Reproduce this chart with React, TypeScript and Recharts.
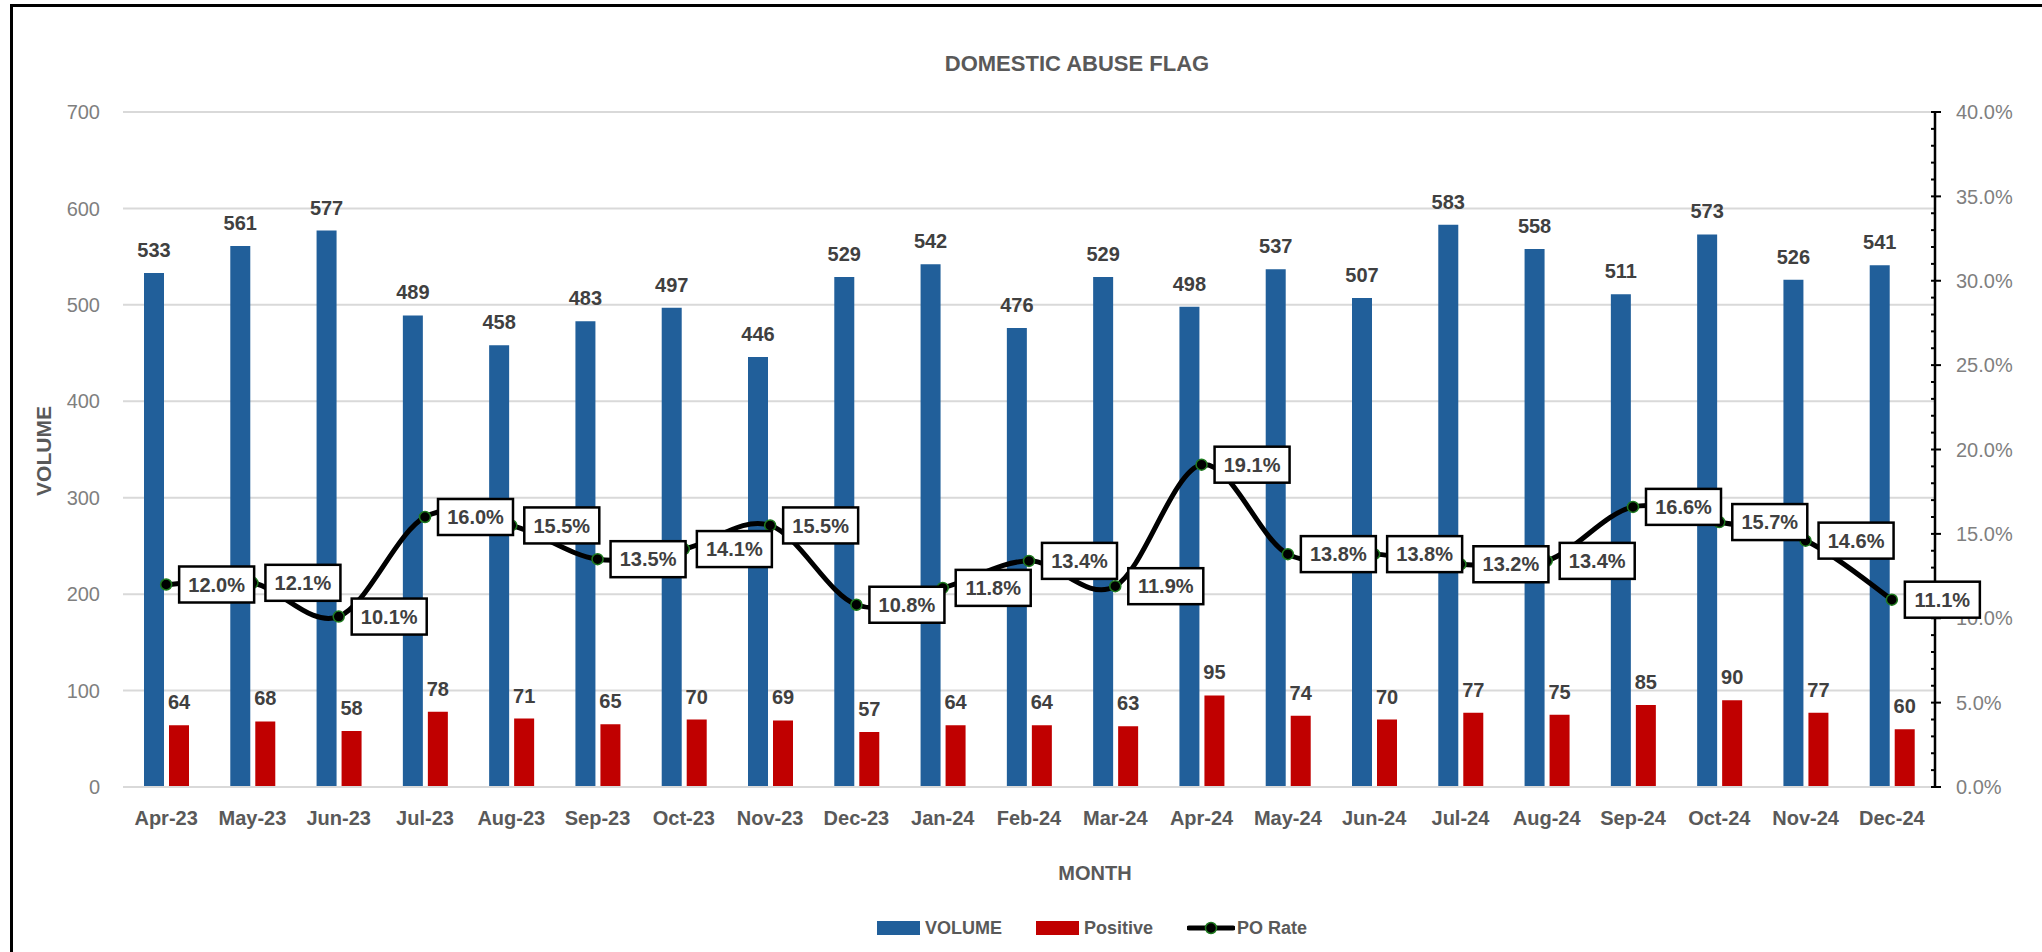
import React from "react";
import {
  ComposedChart,
  Bar,
  Line,
  XAxis,
  YAxis,
  CartesianGrid,
  LabelList,
  Legend,
  Label,
} from "recharts";

const months = [
  "Apr-23", "May-23", "Jun-23", "Jul-23", "Aug-23", "Sep-23", "Oct-23",
  "Nov-23", "Dec-23", "Jan-24", "Feb-24", "Mar-24", "Apr-24", "May-24",
  "Jun-24", "Jul-24", "Aug-24", "Sep-24", "Oct-24", "Nov-24", "Dec-24",
];
const volume = [533, 561, 577, 489, 458, 483, 497, 446, 529, 542, 476, 529, 498, 537, 507, 583, 558, 511, 573, 526, 541];
const positive = [64, 68, 58, 78, 71, 65, 70, 69, 57, 64, 64, 63, 95, 74, 70, 77, 75, 85, 90, 77, 60];
const poRate = [0.12, 0.121, 0.101, 0.16, 0.155, 0.135, 0.141, 0.155, 0.108, 0.118, 0.134, 0.119, 0.191, 0.138, 0.138, 0.132, 0.134, 0.166, 0.157, 0.146, 0.111];

const volumeTicks = [0, 100, 200, 300, 400, 500, 600, 700];
// 1% steps on the right axis, labels only every 5%
const rateTicks = Array.from({ length: 41 }, (_, i) => i / 100);
const legendOrder = ["volume", "positive", "rate"];

const data = months.map((month, i) => ({
  month,
  volume: volume[i],
  positive: positive[i],
  rate: poRate[i],
}));

const FONT = "'Liberation Sans', Arial, sans-serif";
const BLUE = "#215F9A";
const RED = "#C00000";
const GRID = "#d9d9d9";

// Excel-like smoothed line (Catmull-Rom through the points)
const excelSmooth: any = (context: any) => {
  let pts: number[][] = [];
  return {
    areaStart() {},
    areaEnd() {},
    lineStart() {
      pts = [];
    },
    point(x: number, y: number) {
      pts.push([+x, +y]);
    },
    lineEnd() {
      if (!pts.length) return;
      context.moveTo(pts[0][0], pts[0][1]);
      for (let i = 0; i < pts.length - 1; i++) {
        const p0 = pts[Math.max(i - 1, 0)];
        const p1 = pts[i];
        const p2 = pts[i + 1];
        const p3 = pts[Math.min(i + 2, pts.length - 1)];
        context.bezierCurveTo(
          p1[0] + (p2[0] - p0[0]) / 6,
          p1[1] + (p2[1] - p0[1]) / 6,
          p2[0] - (p3[0] - p1[0]) / 6,
          p2[1] - (p3[1] - p1[1]) / 6,
          p2[0],
          p2[1]
        );
      }
    },
  };
};

const RateTick = (props: any) => {
  const { x, y, payload } = props;
  const v = payload.value;
  const major = Math.round(v * 100) % 5 === 0;
  return (
    <g>
      <line x1={x - 4} x2={major ? x + 6 : x} y1={y} y2={y} stroke="#000" strokeWidth={2} />
      {major && (
        <text x={x + 21} y={y} dy="0.36em" fill="#7f7f7f" fontSize={20} fontFamily={FONT}>
          {(v * 100).toFixed(1) + "%"}
        </text>
      )}
    </g>
  );
};

const RateLabel = (props: any) => {
  const vb = props.viewBox || {};
  const x = props.x ?? vb.x;
  const y = props.y ?? vb.y;
  const value = props.value;
  if (x == null || y == null) return null;
  return (
    <g>
      <rect x={x + 13} y={y - 18} width={75} height={36} fill="#fff" stroke="#000" strokeWidth={2.5} />
      <text
        x={x + 50.5}
        y={y}
        dy="0.36em"
        textAnchor="middle"
        fill="#404040"
        fontSize={20}
        fontWeight="bold"
        fontFamily={FONT}
      >
        {(value * 100).toFixed(1) + "%"}
      </text>
    </g>
  );
};

const legendPos = [
  { swatch: 877, text: 925 },
  { swatch: 1036, text: 1084 },
  { swatch: 1187, text: 1237 },
];

const LegendContent = (props: any) => {
  const payload = [...(props.payload || [])].sort(
    (a: any, b: any) => legendOrder.indexOf(a.dataKey) - legendOrder.indexOf(b.dataKey)
  );
  return (
    <div style={{ position: "relative", width: 2042, height: 30 }}>
      {payload.map((p: any, i: number) => {
        const pos = legendPos[i] || legendPos[0];
        const isLine = p.dataKey === "rate";
        return (
          <React.Fragment key={i}>
            {isLine ? (
              <svg style={{ position: "absolute", left: pos.swatch, top: 5 }} width={48} height={20}>
                <line x1={2} x2={46} y1={10} y2={10} stroke="#000" strokeWidth={5} strokeLinecap="round" />
                <circle cx={24} cy={10} r={5.5} fill="#000" stroke="#1f7a1f" strokeWidth={1.5} />
              </svg>
            ) : (
              <div
                style={{
                  position: "absolute",
                  left: pos.swatch,
                  top: 8,
                  width: 43,
                  height: 14,
                  background: p.color,
                }}
              />
            )}
            <span
              style={{
                position: "absolute",
                left: pos.text,
                top: 15,
                transform: "translateY(-50%)",
                fontFamily: FONT,
                fontWeight: "bold",
                fontSize: 18,
                color: "#595959",
                whiteSpace: "nowrap",
              }}
            >
              {p.value}
            </span>
          </React.Fragment>
        );
      })}
    </div>
  );
};

export default function App() {
  return (
    <div
      style={{
        position: "absolute",
        left: 0,
        top: 0,
        width: 2042,
        height: 952,
        overflow: "hidden",
        background: "#fff",
      }}
    >
      <div
        style={{
          position: "absolute",
          left: 10,
          top: 4,
          width: 2200,
          height: 1100,
          border: "3px solid #000",
        }}
      />
      <div
        style={{
          position: "absolute",
          left: 1077,
          top: 64,
          transform: "translate(-50%, -50%)",
          fontFamily: FONT,
          fontWeight: "bold",
          fontSize: 22,
          color: "#595959",
          whiteSpace: "nowrap",
        }}
      >
        DOMESTIC ABUSE FLAG
      </div>
      <div style={{ position: "absolute", left: 0, top: 0 }}>
        <ComposedChart
          width={2042}
          height={952}
          data={data}
          margin={{ top: 112, right: 27, bottom: 125, left: 63 }}
          barSize={20}
          barGap={5}
          style={{ fontFamily: FONT }}
        >
          <CartesianGrid yAxisId="left" vertical={false} stroke={GRID} strokeWidth={2} />
          <XAxis
            dataKey="month"
            interval={0}
            height={40}
            tickSize={0}
            tickMargin={24}
            tickLine={false}
            axisLine={{ stroke: GRID, strokeWidth: 2 }}
            tick={{ fill: "#595959", fontSize: 20, fontWeight: "bold", fontFamily: FONT }}
          >
            <Label
              content={() => (
                <text
                  x={1095}
                  y={873}
                  dy="0.36em"
                  textAnchor="middle"
                  fill="#595959"
                  fontSize={20}
                  fontWeight="bold"
                  fontFamily={FONT}
                >
                  MONTH
                </text>
              )}
            />
          </XAxis>
          <YAxis
            yAxisId="left"
            domain={[0, 700]}
            ticks={volumeTicks}
            width={60}
            tickSize={0}
            tickMargin={23}
            tickLine={false}
            axisLine={false}
            tick={{ fill: "#7f7f7f", fontSize: 20, fontFamily: FONT }}
          >
            <Label
              content={() => (
                <text
                  x={43}
                  y={451}
                  dy="0.36em"
                  transform="rotate(-90 43 451)"
                  textAnchor="middle"
                  fill="#595959"
                  fontSize={21}
                  fontWeight="bold"
                  fontFamily={FONT}
                >
                  VOLUME
                </text>
              )}
            />
          </YAxis>
          <YAxis
            yAxisId="right"
            orientation="right"
            domain={[0, 0.4]}
            ticks={rateTicks}
            interval={0}
            width={80}
            tickSize={0}
            tickMargin={0}
            tickLine={false}
            axisLine={{ stroke: "#000", strokeWidth: 2.5 }}
            tick={<RateTick />}
          />
          <Legend
            layout="horizontal"
            align="center"
            verticalAlign="middle"
            wrapperStyle={{ position: "absolute", left: 0, top: 913, width: 2042, height: 30 }}
            content={<LegendContent />}
          />
          <Bar yAxisId="left" dataKey="volume" name="VOLUME" fill={BLUE} isAnimationActive={false}>
            <LabelList
              dataKey="volume"
              position="top"
              offset={16}
              fill="#404040"
              fontSize={20}
              fontWeight="bold"
              fontFamily={FONT}
            />
          </Bar>
          <Bar yAxisId="left" dataKey="positive" name="Positive" fill={RED} isAnimationActive={false}>
            <LabelList
              dataKey="positive"
              position="top"
              offset={16}
              fill="#404040"
              fontSize={20}
              fontWeight="bold"
              fontFamily={FONT}
            />
          </Bar>
          <Line
            yAxisId="right"
            dataKey="rate"
            name="PO Rate"
            type={excelSmooth}
            stroke="#000"
            strokeWidth={5}
            dot={{ r: 5.5, fill: "#000", stroke: "#1f7a1f", strokeWidth: 1.5 }}
            activeDot={false}
            isAnimationActive={false}
          >
            <LabelList dataKey="rate" content={<RateLabel />} />
          </Line>
        </ComposedChart>
      </div>
    </div>
  );
}
